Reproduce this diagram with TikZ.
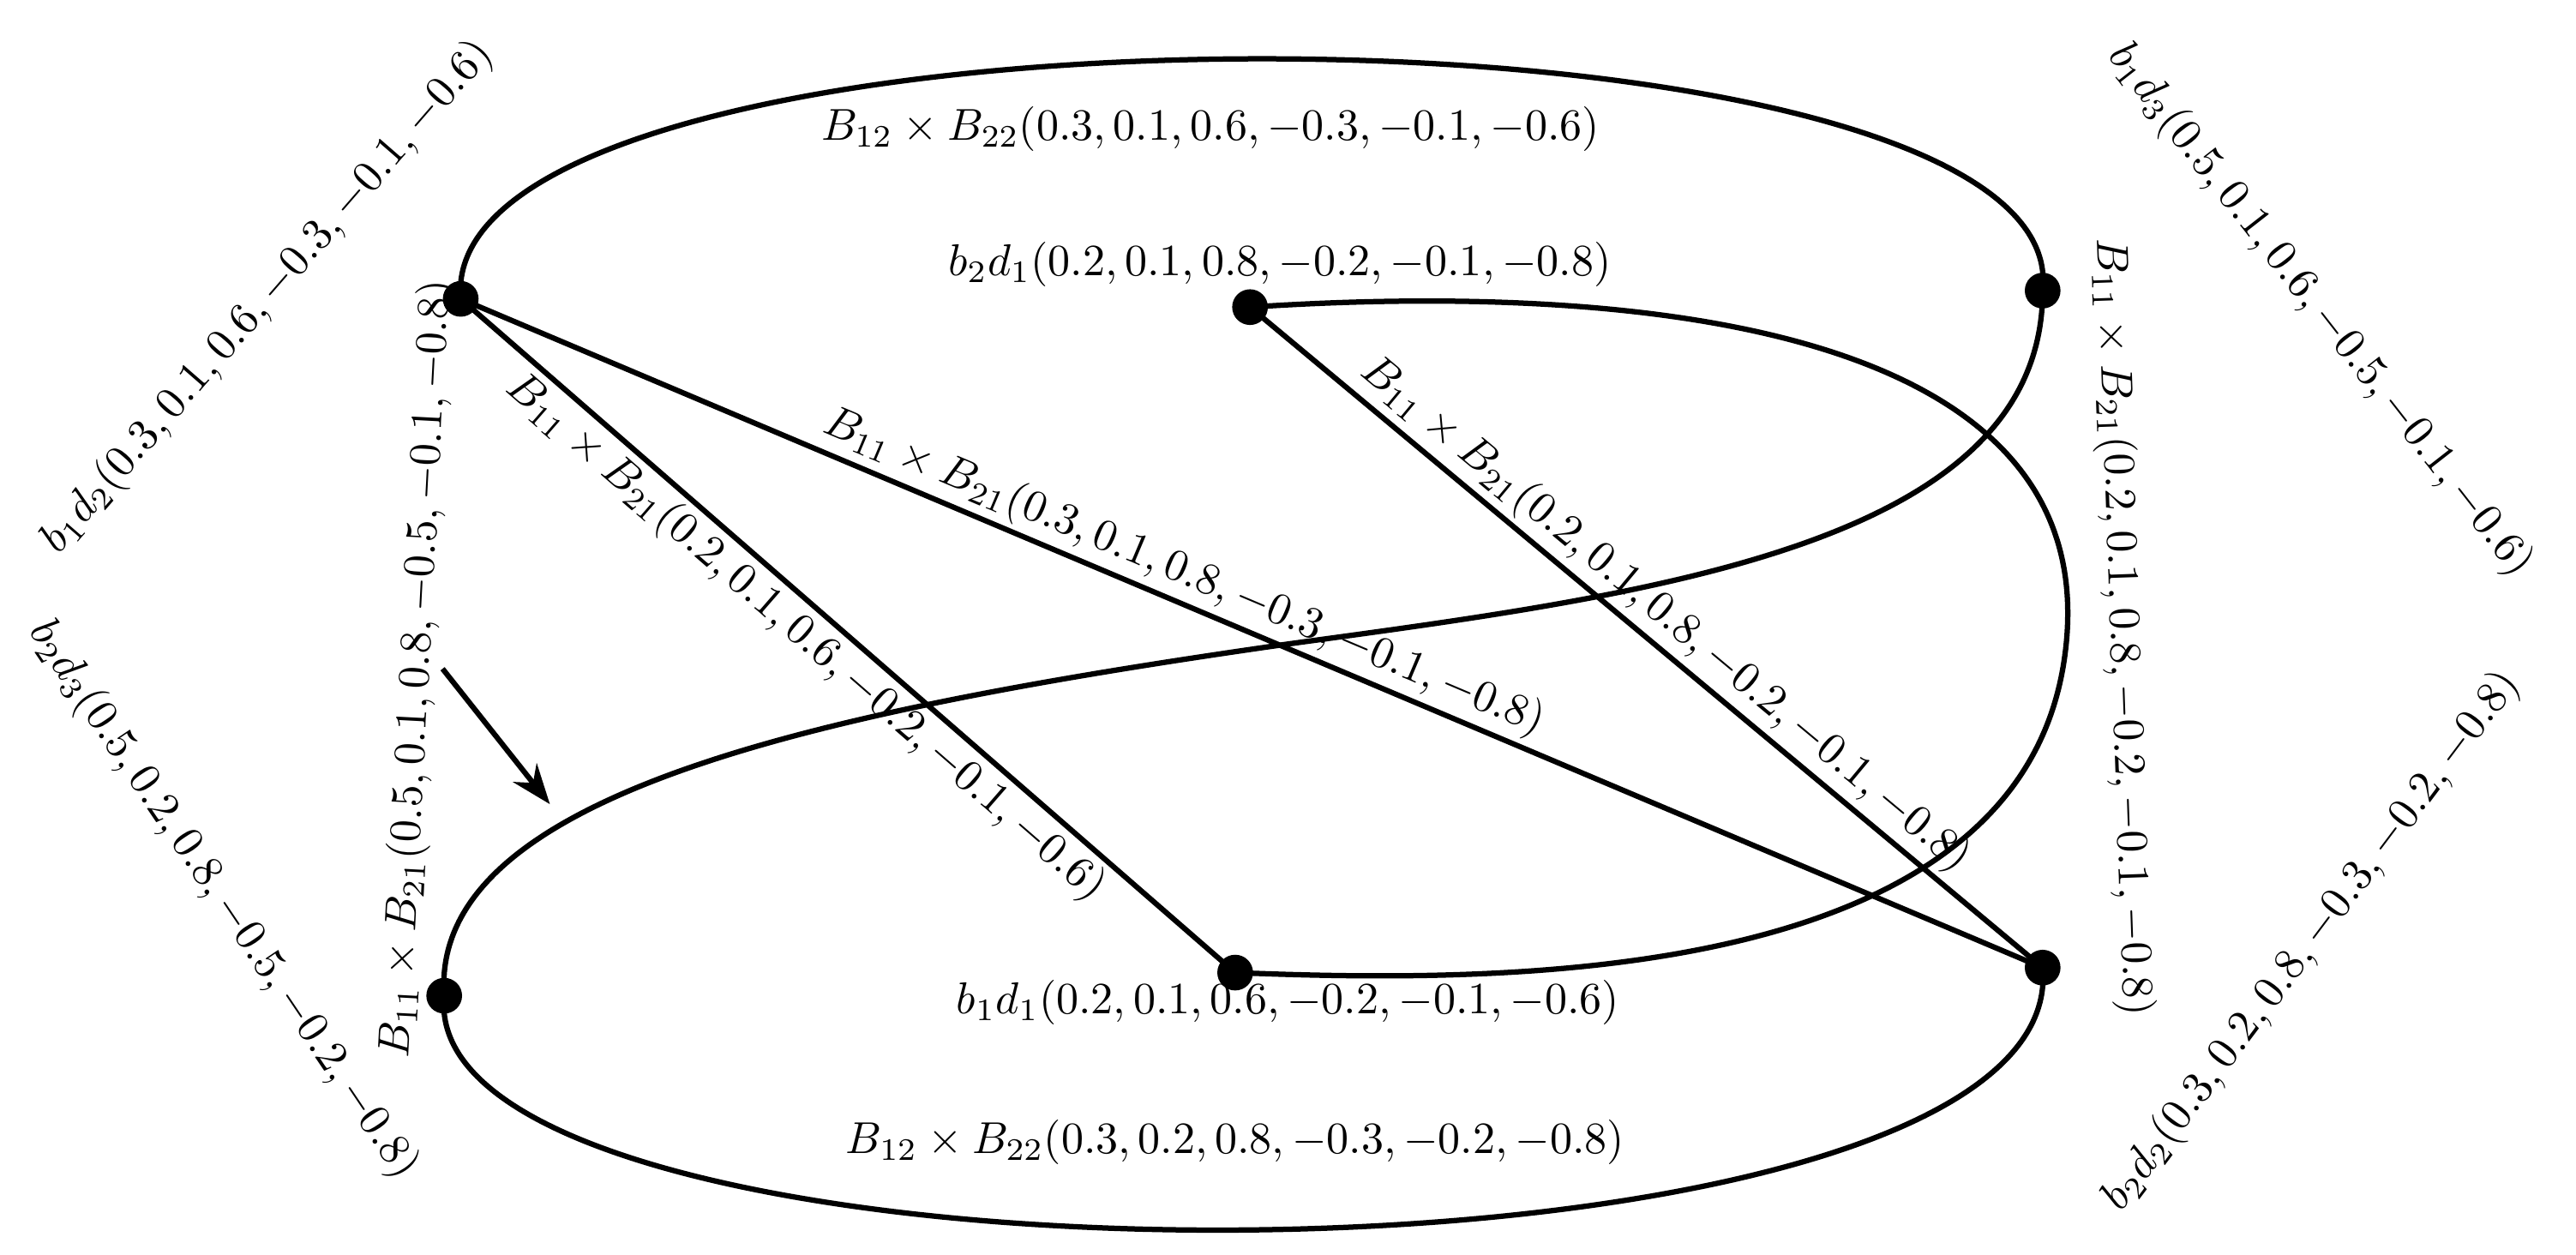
\documentclass[tikz,border=0pt]{standalone}
\usetikzlibrary{arrows.meta}
\begin{document}
\begin{tikzpicture}[x=0.013cm,y=-0.013cm,
  dot/.style={circle,fill,inner sep=0pt,minimum size=8pt},
  ln/.style={line width=1.2pt},
  lab/.style={inner sep=1pt}]
\useasboundingbox (0,0) rectangle (1560,760);
\node[dot] (A) at (279,181) {};
\node[dot] (B) at (757,186) {};
\node[dot] (C) at (1237,176) {};
\node[dot] (D) at (269,603) {};
\node[dot] (E) at (748,589) {};
\node[dot] (F) at (1237,586) {};
\draw[ln] (A.center) .. controls (262,-12) and (1258,-12) .. (C.center);
\draw[ln] (D.center) .. controls (250,795) and (1256,795) .. (F.center);
\draw[ln] (A.center) -- node[lab,sloped,above,pos=0.45]{$B_{11}\times B_{21}(0.3,0.1,0.8,-0.3,-0.1,-0.8)$} (F.center);
\draw[ln] (A.center) -- node[lab,sloped,below,pos=0.47]{$B_{11}\times B_{21}(0.2,0.1,0.6,-0.2,-0.1,-0.6)$} (E.center);
\draw[ln] (B.center) -- node[lab,sloped,above,pos=0.5]{$B_{11}\times B_{21}(0.2,0.1,0.8,-0.2,-0.1,-0.8)$} (F.center);
\draw[ln] (B.center) .. controls (1000,170) and (1280,200) .. (1250,400) .. controls (1220,600) and (900,595) .. (E.center);
\draw[ln] (C.center) .. controls (1237,330) and (1000,360) .. (780,390) .. controls (500,430) and (260,480) .. (D.center);
\coordinate (p) at (268,405);
\coordinate (q) at (333,487);
\draw[ln,-{Stealth[length=9pt]}] (p) -- (q);
\node[lab] (t1) at (733,78) {$B_{12}\times B_{22}(0.3,0.1,0.6,-0.3,-0.1,-0.6)$};
\node[lab] (t2) at (775,160) {$b_2d_1(0.2,0.1,0.8,-0.2,-0.1,-0.8)$};
\node[lab] (t3) at (780,607) {$b_1d_1(0.2,0.1,0.6,-0.2,-0.1,-0.6)$};
\node[lab] (t4) at (748,692) {$B_{12}\times B_{22}(0.3,0.2,0.8,-0.3,-0.2,-0.8)$};
\node[lab,rotate=49] (t5) at (162,180) {$b_1d_2(0.3,0.1,0.6,-0.3,-0.1,-0.6)$};
\node[lab,rotate=-56] (t6) at (135,545) {$b_2d_3(0.5,0.2,0.8,-0.5,-0.2,-0.8)$};
\node[lab,rotate=87] (t7) at (253,405) {$B_{11}\times B_{21}(0.5,0.1,0.8,-0.5,-0.1,-0.8)$};
\node[lab,rotate=-52] (t8) at (1405,188) {$b_1d_3(0.5,0.1,0.6,-0.5,-0.1,-0.6)$};
\node[lab,rotate=-88] (t9) at (1285,380) {$B_{11}\times B_{21}(0.2,0.1,0.8,-0.2,-0.1,-0.8)$};
\node[lab,rotate=53] (t10) at (1400,570) {$b_2d_2(0.3,0.2,0.8,-0.3,-0.2,-0.8)$};
\end{tikzpicture}
\end{document}
